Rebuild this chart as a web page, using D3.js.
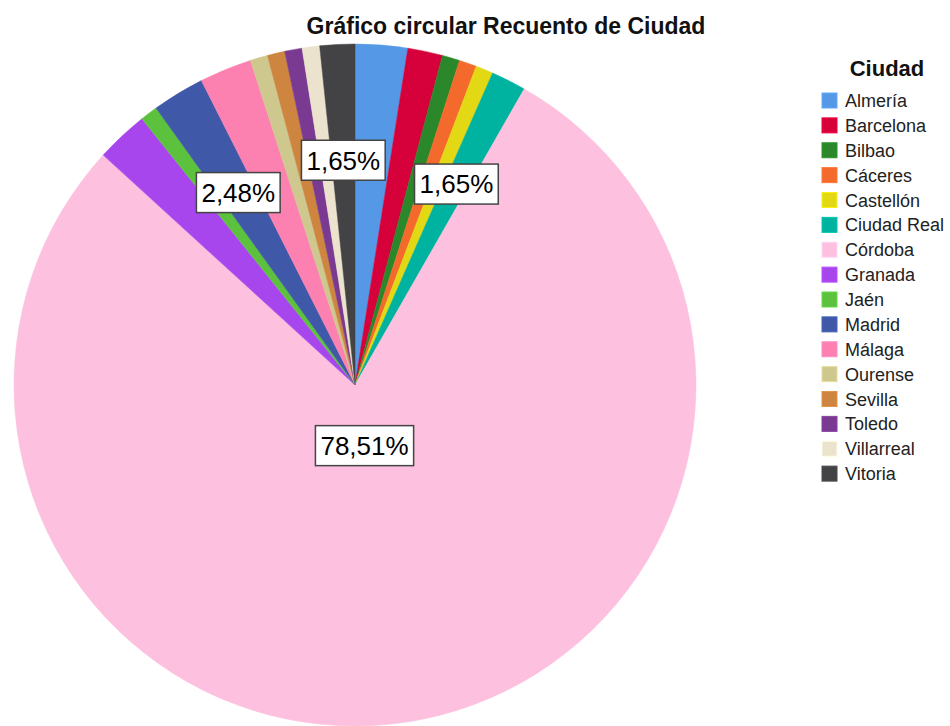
<!DOCTYPE html>
<html>
<head>
<meta charset="utf-8">
<script src="https://cdn.jsdelivr.net/npm/d3@7"></script>
<style>
  body { margin: 0; background: #fff; }
  svg { display: block; font-family: "Liberation Sans", Arial, sans-serif; }
</style>
</head>
<body>
<div id="plot"></div>
<script>
// data
var cities = ["Almería", "Barcelona", "Bilbao", "Cáceres", "Castellón", "Ciudad Real",
  "Córdoba", "Granada", "Jaén", "Madrid", "Málaga", "Ourense", "Sevilla", "Toledo",
  "Villarreal", "Vitoria"];
var counts = [3, 2, 1, 1, 1, 2, 95, 3, 1, 3, 3, 1, 1, 1, 1, 2];
var colors = ["#5598e6", "#d6003a", "#2a882a", "#f46a2c", "#e2d814", "#00b3a0",
  "#fdc0df", "#a846ee", "#5cc23e", "#3f58a8", "#fc80b0", "#cfc88e", "#cd8540",
  "#7a3a92", "#ebe3cd", "#434346"];
// which slices get a label, and how far out (fraction of radius)
var labelled = ["Ciudad Real", "Córdoba", "Madrid", "Vitoria"];
var labelRadius = [0.66, 0.18, 0.66, 0.66];

var svgWidth = 950, svgHeight = 726;
var cx = 355, cy = 385, radius = 341;

var svg = d3.select("#plot").append("svg")
  .attr("width", svgWidth)
  .attr("height", svgHeight);

// title
svg.append("text")
  .attr("x", 506)
  .attr("y", 34)
  .attr("text-anchor", "middle")
  .attr("font-family", "'Liberation Sans Narrow', 'Liberation Sans', Arial, sans-serif")
  .attr("font-weight", "bold")
  .attr("font-size", "23px")
  .attr("fill", "#111")
  .text("Gráfico circular Recuento de Ciudad");

var total = d3.sum(counts);
var data = cities.map((c, i) => ({ city: c, n: counts[i], color: colors[i] }));

var pie = d3.pie().sort(null).value(d => d.n);
var arc = d3.arc().innerRadius(0).outerRadius(radius);

var chartGroup = svg.append("g")
  .attr("transform", `translate(${cx}, ${cy})`);

var arcs = pie(data);

chartGroup.selectAll("path")
  .data(arcs)
  .enter().append("path")
  .attr("d", arc)
  .attr("fill", d => d.data.color)
  .attr("stroke", d => d.data.color)
  .attr("stroke-width", 0.5);

// labels
var fmt = v => d3.format(".2f")(v).replace(".", ",") + "%";
arcs.filter(d => labelled.includes(d.data.city)).forEach(function (d) {
  var r = radius * labelRadius[labelled.indexOf(d.data.city)];
  var lab = d3.arc().innerRadius(r).outerRadius(r).centroid(d);
  var g = chartGroup.append("g").attr("transform", `translate(${lab[0]}, ${lab[1]})`);
  var t = g.append("text")
    .attr("text-anchor", "middle")
    .attr("dy", "0.36em")
    .attr("font-size", "26px")
    .attr("fill", "#000")
    .text(fmt(d.data.n / total * 100));
  var bb = t.node().getBBox();
  g.insert("rect", "text")
    .attr("x", bb.x - 5)
    .attr("y", -20)
    .attr("width", bb.width + 10)
    .attr("height", 40)
    .attr("fill", "#fff")
    .attr("stroke", "#444")
    .attr("stroke-width", 1.5);
});

// legend
var legend = svg.append("g").attr("transform", "translate(822, 0)");
legend.append("text")
  .attr("x", 65)
  .attr("y", 76)
  .attr("text-anchor", "middle")
  .attr("font-weight", "bold")
  .attr("font-size", "22px")
  .attr("fill", "#111")
  .text("Ciudad");

var yLeg = d3.scaleBand().domain(cities).range([89, 487]);
var items = legend.selectAll(".item")
  .data(data)
  .enter().append("g")
  .attr("transform", d => `translate(0, ${yLeg(d.city)})`);
items.append("rect")
  .attr("width", 15)
  .attr("height", 15)
  .attr("y", 4)
  .attr("fill", d => d.color)
  .attr("stroke", d => d3.color(d.color).brighter(0.3))
  .attr("stroke-width", 1);
items.append("text")
  .attr("x", 23)
  .attr("y", 18)
  .attr("font-size", "18px")
  .attr("fill", "#222")
  .text(d => d.city);
</script>
</body>
</html>
